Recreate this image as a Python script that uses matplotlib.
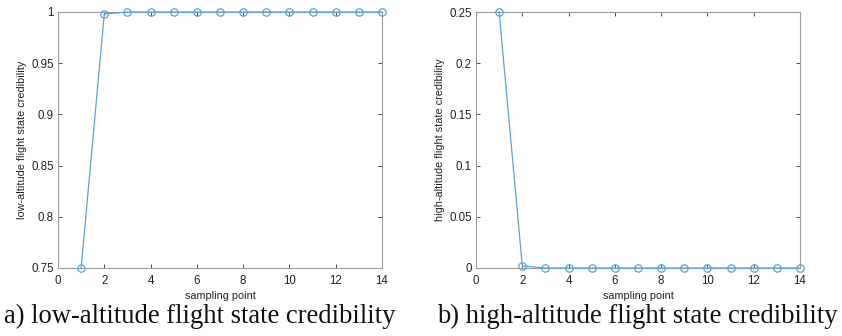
import matplotlib
matplotlib.use("Agg")
import matplotlib.pyplot as plt

x = list(range(1, 15))
low_alt = [0.75, 0.998, 1, 1, 1, 1, 1, 1, 1, 1, 1, 1, 1, 1]
high_alt = [0.25, 0.002, 0, 0, 0, 0, 0, 0, 0, 0, 0, 0, 0, 0]
xticks = [0, 2, 4, 6, 8, 10, 12, 14]
low_yticks = [0.75, 0.8, 0.85, 0.9, 0.95, 1]
low_ylabels = ["0.75", "0.8", "0.85", "0.9", "0.95", "1"]
high_yticks = [0, 0.05, 0.1, 0.15, 0.2, 0.25]
high_ylabels = ["0", "0.05", "0.1", "0.15", "0.2", "0.25"]

plt.rcParams['font.family'] = ['Liberation Sans', 'DejaVu Sans']
W, H = 842, 336
fig = plt.figure(figsize=(W/100, H/100), dpi=100)

color = '#5aa3da'
spine_c = '#9a9a9a'

def make(ax_px, yv, yt, yl, ylim, ylabel, caption, cap_x):
    l, r, t, b = ax_px
    ax = fig.add_axes([l/W, 1-b/H, (r-l)/W, (b-t)/H])
    ax.plot(x, yv, '-o', color=color, lw=0.9, ms=5.3, mfc='none', mew=0.9, clip_on=False, zorder=5)
    ax.set_xlim(0, 14)
    ax.set_ylim(*ylim)
    ax.set_xticks(xticks)
    ax.set_yticks(yt)
    ax.set_yticklabels(yl)
    ax.tick_params(direction='in', top=True, right=True, length=3, width=0.6,
                   color='#333333', labelsize=8.3, labelcolor='#222222')
    ax.tick_params(axis='x', pad=5)
    ax.tick_params(axis='y', pad=3)
    for s in ax.spines.values():
        s.set_color(spine_c)
        s.set_linewidth(0.8)
    ax.set_xlabel('sampling point', fontsize=7.8, color='#222222', labelpad=3)
    ax.set_ylabel(ylabel, fontsize=7.8, color='#222222', labelpad=3)
    fig.text(cap_x/W, 1-323/H, caption, ha='center', va='baseline',
             family=['Liberation Serif'], fontsize=19.2, color='#111111')
    return ax

make((58, 382, 12, 268), low_alt, low_yticks, low_ylabels, (0.75, 1),
     'low-altitude flight state credibility', 'a) low-altitude flight state credibility', 200)
make((476, 800, 12, 268), high_alt, high_yticks, high_ylabels, (0, 0.25),
     'high-altitude flight state credibility', 'b) high-altitude flight state credibility', 637)

fig.savefig('out.png', dpi=100)
